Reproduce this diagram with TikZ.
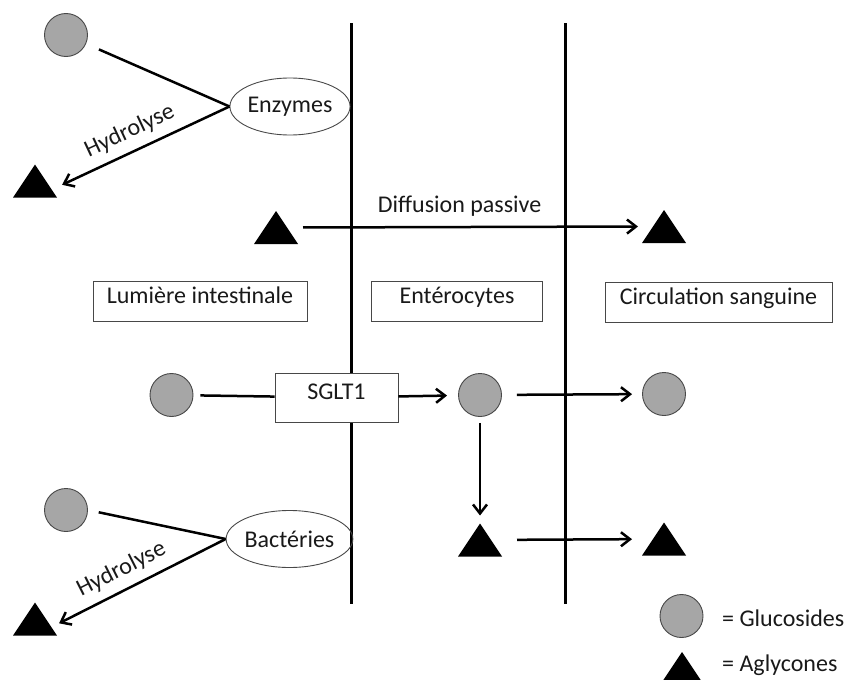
\documentclass[tikz,border=0pt]{standalone}
\usepackage{fontspec}
\setmainfont{Carlito}
\usetikzlibrary{arrows.meta,shapes.geometric}
\definecolor{glucose}{RGB}{166,166,166}
\definecolor{rim}{RGB}{72,72,72}
\begin{document}
\begin{tikzpicture}[x=1pt,y=-1pt,
  every node/.style={font=\fontsize{24}{28}\selectfont, text=black!90},
  gluc/.style={circle, draw=rim, line width=0.9pt, fill=glucose, minimum size=43pt, inner sep=0},
  agly/.style={minimum width=44pt, minimum height=33pt, inner sep=0, outer sep=0,
    path picture={\fill[black] (path picture bounding box.south west) -- (path picture bounding box.south east) -- (path picture bounding box.north) -- cycle;}},
  zone/.style={draw=rim, line width=0.8pt, minimum height=40pt, inner sep=0, text height=0.68em, text depth=0.2em},
  agent/.style={ellipse, draw=rim, line width=0.9pt, minimum width=115pt, minimum height=57pt, inner sep=0},
  membrane/.style={line width=3pt},
  flow/.style={line width=2.5pt},
  arr/.style={flow, -{Straight Barb[length=9pt,width=14pt]}}
]
\useasboundingbox (0,0) rectangle (849,680);

% membranes
\coordinate (m1t) at (351,23);
\coordinate (m1b) at (351,604);
\coordinate (m2t) at (565,23);
\coordinate (m2b) at (565,604);
\draw[membrane] (m1t) -- (m1b);
\draw[membrane] (m2t) -- (m2b);

% enzymatic hydrolysis
\node[gluc] (g1) at (66,35) {};
\node[agent] (enz) at (290,106.5) {Enzymes};
\node[agly] (a1) at (35,181) {};
\draw[flow, shorten <=14pt] (g1) -- (enz.west);
\draw[arr, shorten >=30pt] (enz.west) -- node[sloped, pos=0.47, above=5pt] {Hydrolyse} (a1.south);

% passive diffusion
\node[agly] (a2) at (276,227.5) {};
\node[agly] (a3) at (664,226.5) {};
\draw[arr, shorten <=5pt, shorten >=4pt] (a2.east) -- node[pos=0.47, above=6pt] {Diffusion passive} (a3.west);

% compartments
\node[zone, minimum width=214pt] (lum) at (200,301) {Lumière intestinale};
\node[zone, minimum width=171pt] (ent) at (457,301) {Entérocytes};
\node[zone, minimum width=227pt] (circ) at (718.5,302) {Circulation sanguine};

% active transport
\node[gluc] (g3) at (171.5,395) {};
\node[zone, minimum width=123pt, minimum height=49pt, fill=white] (sglt) at (336.5,397.5) {SGLT1};
\node[gluc] (g4) at (480,395) {};
\node[gluc] (g5) at (664,394) {};
\draw[flow, shorten <=7pt] (g3) -- (sglt);
\draw[arr, shorten >=11pt] (sglt) -- (g4);
\draw[arr, shorten <=15pt, shorten >=10pt] (g4) -- (g5);

\node[agly] (a5) at (480,540) {};
\node[agly] (a6) at (664,539) {};
\draw[arr, shorten <=6pt, shorten >=8pt] (g4) -- (a5);
\draw[arr, shorten <=15pt, shorten >=10pt] (a5) -- (a6);

% bacterial hydrolysis
\node[gluc] (g2) at (66,510) {};
\node[agent] (bac) at (289.5,539) {Bactéries};
\node[agly] (a4) at (35,619) {};
\draw[flow, shorten <=11pt] (g2.east) -- (bac.west);
\draw[arr, shorten >=27pt] (bac.west) -- node[sloped, pos=0.5, above=5pt] {Hydrolyse} (a4.south);

% legend
\node[gluc] (lg) at (681.5,616) {};
\node[anchor=west, inner sep=0] (lgt) at (722,618) {= Glucosides};
\node[agly] (la) at (682,668.5) {};
\node[anchor=west, inner sep=0] (lat) at (722,665) {= Aglycones};
\end{tikzpicture}
\end{document}
